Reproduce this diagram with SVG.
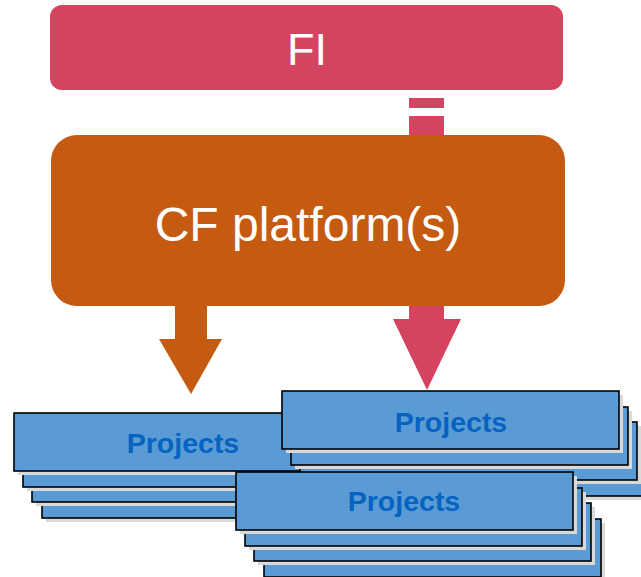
<svg xmlns="http://www.w3.org/2000/svg" xmlns:xlink="http://www.w3.org/1999/xlink" width="641" height="577" viewBox="0 0 641 577">
  <style>
    .fi { fill: #D4435F; }
    .cf { fill: #C55A11; }
    .card { fill: #5B9BD5; stroke: #000; stroke-width: 1.6; }
    .shade { fill: #D9D9D9; }
    .big { font-family: "Liberation Sans", Arial, sans-serif; fill: #fff; text-anchor: middle; }
    .proj { font-family: "Liberation Sans", Arial, sans-serif; font-weight: bold; font-size: 28.5px; fill: #0563C1; text-anchor: middle; }
  </style>
  <defs>
    <!-- one card layer: drop shadow plus bordered blue box -->
    <g id="layer">
      <rect class="shade" x="4" y="4" width="337" height="58"/>
      <rect class="card" x="0" y="0" width="337" height="58"/>
    </g>
    <!-- four stacked cards, back to front -->
    <g id="stack">
      <use xlink:href="#layer" x="28" y="47"/>
      <use xlink:href="#layer" x="18" y="31"/>
      <use xlink:href="#layer" x="9" y="16"/>
      <use xlink:href="#layer" x="0" y="0"/>
    </g>
  </defs>

  <!-- connectors: drawn first so the CF box covers the pink shaft -->
  <g id="connectors">
    <!-- FI to projects (pink), passing behind the CF box -->
    <rect class="fi" x="409" y="98" width="35" height="10"/>
    <rect class="fi" x="409" y="116" width="35" height="22"/>
    <polygon class="fi" points="409,300 444,300 444,319 461,319 427,390 393,319 409,319"/>
    <!-- CF platform to projects (orange) -->
    <polygon class="cf" points="175,300 207,300 207,339 222,339 191,394 159,339 175,339"/>
  </g>

  <g id="fi">
    <rect class="fi" x="50" y="5" width="513" height="85" rx="12"/>
    <text class="big" x="307" y="65" font-size="45">FI</text>
  </g>

  <g id="cf-platform">
    <rect class="cf" x="51" y="135" width="514" height="171" rx="26"/>
    <text class="big" x="308" y="241" font-size="48">CF platform(s)</text>
  </g>

  <g id="projects-left">
    <use xlink:href="#stack" x="14" y="413"/>
    <text class="proj" x="183" y="453">Projects</text>
  </g>

  <g id="projects-right">
    <use xlink:href="#stack" x="282" y="391"/>
    <text class="proj" x="451" y="432">Projects</text>
  </g>

  <g id="projects-bottom">
    <use xlink:href="#stack" x="236" y="472"/>
    <text class="proj" x="404" y="511">Projects</text>
  </g>
</svg>
